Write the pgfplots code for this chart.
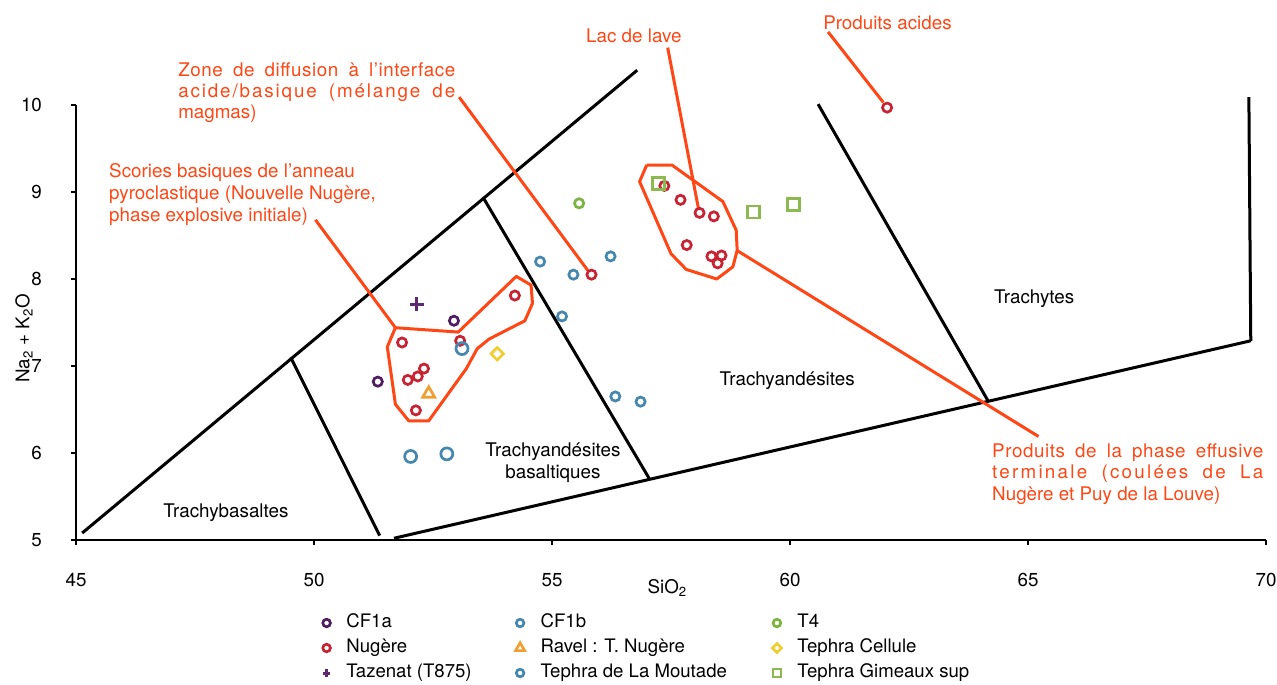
\documentclass[border=0pt]{standalone}
\usepackage{fontspec}
\setmainfont{TeX Gyre Heros}
\usepackage{pgfplots}
\pgfplotsset{compat=1.18}
\definecolor{cfa}{RGB}{80,30,95}
\definecolor{nug}{RGB}{200,35,50}
\definecolor{taz}{RGB}{95,40,110}
\definecolor{cfb}{RGB}{70,135,175}
\definecolor{rav}{RGB}{240,160,50}
\definecolor{tfour}{RGB}{125,180,65}
\definecolor{cel}{RGB}{240,205,50}
\definecolor{gim}{RGB}{140,185,80}
\definecolor{annot}{RGB}{255,70,20}
\newcommand{\ls}[2]{{\addfontfeatures{LetterSpace=#1}#2}}
\begin{document}
\begin{tikzpicture}
\useasboundingbox (-38pt,-72pt) rectangle (600.5pt,270pt);
\begin{axis}[
  at={(0pt,0pt)}, anchor=south west,
  scale only axis, width=595pt, height=217.5pt,
  xmin=45, xmax=70, ymin=5, ymax=10,
  axis x line=bottom, axis y line=left,
  axis line style={-, line width=0.6pt, black},
  xtick={45,50,55,60,65,70}, ytick={5,6,7,8,9,10},
  tick align=outside, major tick length=2.5pt,
  tick style={line width=0.6pt, black},
  clip=false,
  /pgf/number format/assume math mode=true,
  ticklabel style={font=\fontsize{9.4}{11}\selectfont},
  xticklabel style={yshift=-10.5pt},
  yticklabel style={xshift=-11pt},
  xlabel={SiO\textsubscript{2}},
  ylabel={Na\textsubscript{2} + K\textsubscript{2}O},
  every axis x label/.style={at={(axis description cs:0.497,-0.11)}, anchor=center, font=\fontsize{9.4}{11}\selectfont},
  every axis y label/.style={at={(axis description cs:-0.0437,0.464)}, rotate=90, anchor=center, font=\fontsize{9.4}{11}\selectfont},
  legend columns=3,
  legend cell align=left,
  legend image code/.code={\draw[#1] plot coordinates {(0pt,0pt)};},
  legend style={draw=none, fill=none, inner sep=0pt, outer sep=0pt,
     at={(axis description cs:0.2074,-0.169)}, anchor=north west,
     font=\fontsize{9.3}{11}\selectfont,
     row sep=3pt,
     nodes={inner sep=0pt, text height=7pt, text depth=2.5pt},
     /tikz/every odd column/.style={column sep=8pt},
     /tikz/every even column/.style={column sep=0pt}},
]
% classification boundaries
\addplot[forget plot, black, line width=1.5pt] coordinates {(45.13,5.08) (56.79,10.40)};
\addplot[forget plot, black, line width=1.5pt] coordinates {(49.51,7.10) (51.38,5.05)};
\addplot[forget plot, black, line width=1.5pt] coordinates {(53.55,8.94) (57.05,5.70)};
\addplot[forget plot, black, line width=1.5pt] coordinates {(51.68,5.02) (69.68,7.29)};
\addplot[forget plot, black, line width=1.5pt] coordinates {(60.59,10.01) (64.17,6.59)};
\addplot[forget plot, black, line width=1.5pt] coordinates {(69.64,10.09) (69.68,7.29)};
% envelopes
\addplot[forget plot, annot, line width=1.5pt, line join=round] coordinates {
 (51.71,7.44) (53.03,7.39) (54.25,8.03) (54.56,7.93) (54.59,7.72) (54.43,7.52)
 (53.68,7.31) (53.43,7.20) (53.20,6.97) (52.41,6.37) (51.99,6.37) (51.71,6.56)
 (51.54,7.22) (51.71,7.44)};
\addplot[forget plot, annot, line width=1.5pt, line join=round] coordinates {
 (56.99,9.31) (57.52,9.31) (58.59,8.89) (58.87,8.56) (58.89,8.33) (58.80,8.14)
 (58.46,8.00) (57.82,8.11) (57.50,8.29) (56.84,9.12) (56.99,9.31)};
% leaders
\addplot[forget plot, annot, line width=1.5pt] coordinates {(50.03,8.68) (51.71,7.44)};
\addplot[forget plot, annot, line width=1.5pt] coordinates {(53.05,10.09) (55.75,8.10)};
\addplot[forget plot, annot, line width=1.5pt] coordinates {(57.43,10.66) (58.08,8.80)};
\addplot[forget plot, annot, line width=1.5pt] coordinates {(60.80,10.84) (61.96,10.03)};
\addplot[forget plot, annot, line width=1.5pt] coordinates {(58.88,8.33) (65.22,6.19)};
% data
\addplot[only marks, mark=o, cfa, mark size=2.3pt, line width=1.35pt, legend image post style={mark size=1.9pt}]
 coordinates {(52.94,7.52) (51.34,6.82)};
\addlegendentry{\makebox[84.6pt][l]{CF1a}}
\addplot[only marks, mark=o, cfb, mark size=2.3pt, line width=1.35pt, legend image post style={mark size=1.9pt}]
 coordinates {(54.75,8.20) (55.45,8.05) (56.23,8.26) (55.21,7.57) (56.33,6.65) (56.86,6.59)};
\addlegendentry{\makebox[115.9pt][l]{CF1b}}
\addplot[only marks, mark=o, tfour, mark size=2.3pt, line width=1.35pt, legend image post style={mark size=1.9pt}]
 coordinates {(55.57,8.87)};
\addlegendentry{T4}
\addplot[only marks, mark=o, nug, mark size=2.3pt, line width=1.35pt, legend image post style={mark size=1.9pt}]
 coordinates {(62.04,9.97) (54.22,7.81) (53.07,7.29) (51.85,7.27) (52.31,6.97) (52.18,6.88)
 (51.97,6.84) (52.14,6.49) (55.83,8.05) (57.36,9.07) (57.70,8.91) (58.10,8.76) (58.40,8.72)
 (57.83,8.39) (58.35,8.26) (58.56,8.27) (58.48,8.18)};
\addlegendentry{\makebox[84.6pt][l]{Nugère}}
\addplot[only marks, mark=triangle, rav, mark size=3.5pt, line width=1.35pt, legend image post style={mark size=2.6pt}]
 coordinates {(52.41,6.68)};
\addlegendentry{\makebox[115.9pt][l]{Ravel : T. Nugère}}
\addplot[only marks, mark=square, mark options={rotate=45}, cel, mark size=2.2pt, line width=1.35pt, legend image post style={mark size=1.6pt}]
 coordinates {(53.85,7.14)};
\addlegendentry{Tephra Cellule}
\addplot[only marks, mark=+, taz, mark size=3.4pt, line width=1.5pt, legend image post style={mark size=1.8pt}]
 coordinates {(52.16,7.71)};
\addlegendentry{\makebox[84.6pt][l]{Tazenat (T875)}}
\addplot[only marks, mark=o, cfb, mark size=3pt, line width=1.35pt, legend image post style={mark size=1.9pt}]
 coordinates {(53.11,7.20) (52.03,5.96) (52.79,5.99)};
\addlegendentry{\makebox[115.9pt][l]{Tephra de La Moutade}}
\addplot[only marks, mark=square, gim, mark size=3pt, line width=1.4pt, legend image post style={mark size=2pt}]
 coordinates {(57.24,9.10) (59.24,8.77) (60.08,8.86)};
\addlegendentry{Tephra Gimeaux sup}
% text
\node[anchor=west, inner sep=0pt, text=annot, font=\fontsize{9.4}{10.8}\selectfont] at (axis cs:60.69,10.95) {Produits acides};
\node[anchor=west, inner sep=0pt, text=annot, font=\fontsize{9.4}{10.8}\selectfont] at (axis cs:55.71,10.80) {Lac de lave};
\node[anchor=west, inner sep=0pt, text=annot, align=left, font=\fontsize{9.4}{10.5}\selectfont] at (axis cs:47.14,10.14)
 {\makebox[138.5pt][s]{\ls{3}{Zone de diffusion à l’interface}}\\\makebox[138.5pt][s]{\ls{10}{acide/basique (mélange de}}\\magmas)};
\node[anchor=west, inner sep=0pt, text=annot, align=left, font=\fontsize{9.4}{10.8}\selectfont] at (axis cs:45.69,8.97)
 {Scories basiques de l’anneau\\pyroclastique (Nouvelle Nugère,\\phase explosive initiale)};
\node[anchor=west, inner sep=0pt, text=annot, align=left, font=\fontsize{9.4}{10.8}\selectfont] at (axis cs:64.24,5.76)
 {\makebox[135.5pt][s]{\ls{3}{Produits de la phase effusive}}\\\makebox[135.5pt][s]{\ls{12}{terminale (coulées de La}}\\Nugère et Puy de la Louve)};
\node[inner sep=0pt, font=\fontsize{9.4}{10.8}\selectfont] at (axis cs:65.13,7.77) {Trachytes};
\node[inner sep=0pt, font=\fontsize{9.4}{10.8}\selectfont] at (axis cs:59.94,6.83) {Trachyandésites};
\node[inner sep=0pt, align=center, font=\fontsize{9.4}{11}\selectfont] at (axis cs:55.02,5.89) {Trachyandésites\\basaltiques};
\node[inner sep=0pt, font=\fontsize{9.4}{10.8}\selectfont] at (axis cs:48.15,5.31) {Trachybasaltes};
\end{axis}
\end{tikzpicture}
\end{document}
